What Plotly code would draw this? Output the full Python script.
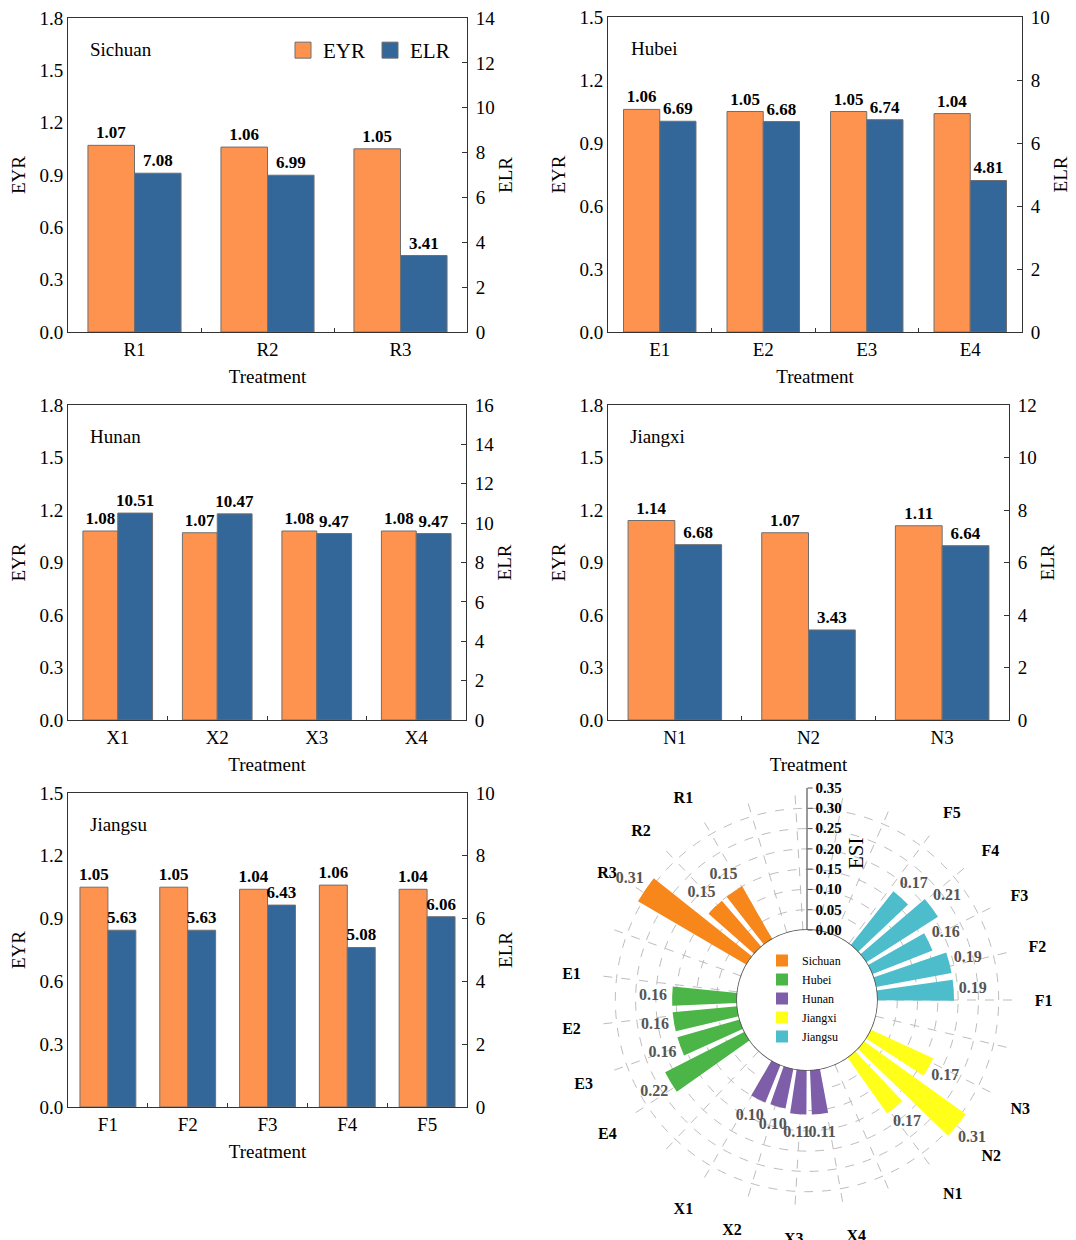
import math
import plotly.graph_objects as go

W, H = 1076, 1240
OFF = 8  # page body margin of the html page
FONT = "Liberation Serif"
AX = "#333333"
ORANGE = "#FE9350"
BLUE = "#336699"
BAR_EDGE = "#6f6f6f"

# ---------------- data: bar panels ----------------
sichuan_trt = ["R1", "R2", "R3"]
sichuan_eyr = [1.07, 1.06, 1.05]
sichuan_elr = [7.08, 6.99, 3.41]

hubei_trt = ["E1", "E2", "E3", "E4"]
hubei_eyr = [1.06, 1.05, 1.05, 1.04]
hubei_elr = [6.69, 6.68, 6.74, 4.81]

hunan_trt = ["X1", "X2", "X3", "X4"]
hunan_eyr = [1.08, 1.07, 1.08, 1.08]
hunan_elr = [10.51, 10.47, 9.47, 9.47]

jiangxi_trt = ["N1", "N2", "N3"]
jiangxi_eyr = [1.14, 1.07, 1.11]
jiangxi_elr = [6.68, 3.43, 6.64]

jiangsu_trt = ["F1", "F2", "F3", "F4", "F5"]
jiangsu_eyr = [1.05, 1.05, 1.04, 1.06, 1.04]
jiangsu_elr = [5.63, 5.63, 6.43, 5.08, 6.06]

# axis maxima (EYR, ELR)
sichuan_axes = (1.8, 14)
hubei_axes = (1.5, 10)
hunan_axes = (1.8, 16)
jiangxi_axes = (1.8, 12)
jiangsu_axes = (1.5, 10)

# ---------------- data: polar ESI ----------------
region_names = ["Sichuan", "Hubei", "Hunan", "Jiangxi", "Jiangsu"]
region_colors = ["#F7861B", "#4BB548", "#7E5EA8", "#FFFF1A", "#4DBDCC"]
esi_sichuan = [0.15, 0.15, 0.31]
esi_hubei = [0.16, 0.16, 0.16, 0.22]
esi_hunan = [0.10, 0.10, 0.11, 0.11]
esi_jiangxi = [0.17, 0.31, 0.17]
esi_jiangsu = [0.19, 0.19, 0.16, 0.21, 0.17]

# angular label slots (counter-clockwise from 0 deg)
angular_labels = ["F1", "F2", "F3", "F4", "F5", "", "", "", "",
                  "R1", "R2", "R3", "", "E1", "E2", "E3", "E4", "",
                  "X1", "X2", "X3", "X4", "", "N1", "N2", "N3", ""]
# bar slots (counter-clockwise from 0 deg)
bar_slots = (["F1", "F2", "F3", "F4", "F5"] + [None] * 6 +
             ["R1", "R2", "R3"] + [None] * 2 +
             ["E1", "E2", "E3", "E4"] + [None] * 2 +
             ["X1", "X2", "X3", "X4"] + [None] * 2 +
             ["N1", "N2", "N3"] + [None] * 2)

panels = [
    ("Sichuan", sichuan_trt, sichuan_eyr, sichuan_elr, sichuan_axes, (68, 467, 18, 332)),
    ("Hubei", hubei_trt, hubei_eyr, hubei_elr, hubei_axes, (608, 1022, 17, 332)),
    ("Hunan", hunan_trt, hunan_eyr, hunan_elr, hunan_axes, (68, 466, 405, 720)),
    ("Jiangxi", jiangxi_trt, jiangxi_eyr, jiangxi_elr, jiangxi_axes, (608, 1009, 405, 720)),
    ("Jiangsu", jiangsu_trt, jiangsu_eyr, jiangsu_elr, jiangsu_axes, (68, 467, 793, 1107)),
]


def px_x(p):
    return (p - OFF) / W


def px_y(p):
    return 1 - (p - OFF) / H


def sfx(n):
    return "" if n == 1 else str(n)


fig = go.Figure()
layout = dict(
    width=W, height=H,
    margin=dict(l=0, r=0, t=0, b=0),
    paper_bgcolor="white", plot_bgcolor="white",
    font=dict(family=FONT, color="black", size=18),
    barmode="overlay",
    annotations=[],
)

lbl_font = dict(family=FONT, size=17, color="black")

for i, (name, trt, eyr, elr, (eyr_max, elr_max), (x0, x1, y0, y1)) in enumerate(panels, start=1):
    xa, ya, yb = f"x{sfx(i)}", f"y{sfx(i)}", f"y{i + 5}"
    fig.add_trace(go.Bar(
        x=trt, y=eyr, xaxis=xa, yaxis=ya, width=0.35, offset=-0.35,
        marker=dict(color=ORANGE, line=dict(color=BAR_EDGE, width=1)),
        texttemplate="<b>%{y:.2f}</b>", textposition="outside", textangle=0,
        constraintext="none", cliponaxis=False, textfont=lbl_font,
        showlegend=False, name="EYR"))
    fig.add_trace(go.Bar(
        x=trt, y=elr, xaxis=xa, yaxis=yb, width=0.35, offset=0.0,
        marker=dict(color=BLUE, line=dict(color=BAR_EDGE, width=1)),
        texttemplate="<b>%{y:.2f}</b>", textposition="outside", textangle=0,
        constraintext="none", cliponaxis=False, textfont=lbl_font,
        showlegend=False, name="ELR"))

    layout[f"xaxis{sfx(i)}"] = dict(
        domain=[px_x(x0), px_x(x1)], anchor=ya, type="category",
        range=[-0.5, len(trt) - 0.5],
        showline=True, linecolor=AX, linewidth=1, mirror=True,
        ticks="inside", tickson="boundaries", ticklen=4, tickcolor=AX,
        tickfont=dict(size=19), ticklabelstandoff=0,
        title=dict(text="Treatment", font=dict(size=19), standoff=10),
        showgrid=False, zeroline=False, automargin=False)
    layout[f"yaxis{sfx(i)}"] = dict(
        domain=[px_y(y1), px_y(y0)], anchor=xa,
        range=[0, eyr_max], tick0=0, dtick=0.3, tickformat=".1f",
        showline=True, linecolor=AX, linewidth=1, ticks="",
        tickfont=dict(size=19), ticklabeloverflow="allow",
        title=dict(text="EYR", font=dict(size=19), standoff=8),
        showgrid=False, zeroline=False, automargin=False)
    layout[f"yaxis{i + 5}"] = dict(
        overlaying=ya, side="right", anchor=xa,
        range=[0, elr_max], tick0=0, dtick=2,
        showline=True, linecolor=AX, linewidth=1,
        ticks="inside", ticklen=5, tickcolor=AX,
        tickfont=dict(size=19), ticklabelstandoff=4, ticklabeloverflow="allow",
        title=dict(text="ELR", font=dict(size=19), standoff=4),
        showgrid=False, zeroline=False, automargin=False)
    layout["annotations"].append(dict(
        text=name, xref=f"{xa} domain", yref=f"{ya} domain",
        x=0.05, y=0.9, xanchor="left", yanchor="middle",
        showarrow=False, font=dict(size=19)))

# legend entries for EYR / ELR (square patches)
fig.add_trace(go.Scatter(x=[None], y=[None], xaxis="x", yaxis="y", mode="markers",
                         marker=dict(symbol="square", size=16, color=ORANGE,
                                     line=dict(color=BAR_EDGE, width=1)),
                         name="EYR", legend="legend"))
fig.add_trace(go.Scatter(x=[None], y=[None], xaxis="x", yaxis="y", mode="markers",
                         marker=dict(symbol="square", size=16, color=BLUE,
                                     line=dict(color=BAR_EDGE, width=1)),
                         name="ELR", legend="legend"))

# ---------------- polar ESI chart ----------------
CX, CY = 807, 1000          # centre of the polar chart (page px)
HOLE_PX, OUT_PX = 70, 212   # hole radius and outer radius (page px)
R_MAX = 0.3501
PX_PER_UNIT = (OUT_PX - HOLE_PX) / R_MAX
R_MAX_TXT = 0.43            # helper polar for value labels, same scale
OUT_TXT = HOLE_PX + R_MAX_TXT * PX_PER_UNIT

n_lab = len(angular_labels)
n_bar = len(bar_slots)
bar_rotation = 3.8
lab_theta = [j * 360.0 / n_lab for j in range(n_lab)]
slot_theta = {s: k * 360.0 / n_bar + bar_rotation for k, s in enumerate(bar_slots) if s}
bar_width = 0.75 * 360.0 / n_bar

esi_groups = [
    (sichuan_trt, esi_sichuan), (hubei_trt, esi_hubei), (hunan_trt, esi_hunan),
    (jiangxi_trt, esi_jiangxi), (jiangsu_trt, esi_jiangsu)]

all_r, all_t = [], []
for (trt, vals), nm, col in zip(esi_groups, region_names, region_colors):
    th = [slot_theta[t] for t in trt]
    fig.add_trace(go.Barpolar(
        r=vals, theta=th, width=[bar_width] * len(vals), name=nm,
        marker=dict(color=col, line=dict(width=0)), subplot="polar",
        legend="legend2"))
    all_r += vals
    all_t += th

# hole circle
circ_t = list(range(0, 361, 3))
fig.add_trace(go.Scatterpolar(
    r=[0] * len(circ_t), theta=circ_t, mode="lines",
    line=dict(color="#555555", width=1.6), subplot="polar",
    showlegend=False, hoverinfo="skip", cliponaxis=False))

# value labels just beyond bar ends (on a transparent helper polar with the same scale)
LABEL_GAP = 0.047
lab_r = [v + LABEL_GAP for v in all_r]
fig.add_trace(go.Scatterpolar(
    r=lab_r, theta=all_t, mode="text", text=[f"{v:.2f}" for v in all_r],
    textfont=dict(family=FONT, size=16, color="#555555", weight="bold"),
    subplot="polar2", showlegend=False, cliponaxis=False, hoverinfo="skip"))

layout["polar"] = dict(
    domain=dict(x=[px_x(CX - OUT_PX), px_x(CX + OUT_PX)],
                y=[px_y(CY + OUT_PX), px_y(CY - OUT_PX)]),
    hole=HOLE_PX / OUT_PX, bgcolor="white",
    radialaxis=dict(
        range=[0, R_MAX], angle=90, tick0=0, dtick=0.05, tickformat=".2f",
        showline=True, linecolor="#555555", linewidth=1.2,
        ticks="outside", ticklen=5, tickcolor="#555555", tickangle=90,
        tickfont=dict(family=FONT, size=15, color="black", weight="bold"),
        showgrid=True, gridcolor="#BDBDBD", griddash="dash", gridwidth=1),
    angularaxis=dict(
        type="linear", thetaunit="degrees", direction="counterclockwise", rotation=0,
        tickmode="array", tickvals=lab_theta, ticktext=angular_labels,
        ticks="outside", ticklen=12, tickcolor="rgba(0,0,0,0)",
        tickfont=dict(family=FONT, size=16, color="black", weight="bold"),
        showline=False, showgrid=True, gridcolor="#BDBDBD", griddash="dash", gridwidth=1),
)
layout["polar2"] = dict(
    domain=dict(x=[px_x(CX - OUT_TXT), px_x(CX + OUT_TXT)],
                y=[px_y(CY + OUT_TXT), px_y(CY - OUT_TXT)]),
    hole=HOLE_PX / OUT_TXT, bgcolor="rgba(0,0,0,0)",
    radialaxis=dict(range=[0, R_MAX_TXT], visible=False, showgrid=False,
                    showline=False, showticklabels=False, ticks=""),
    angularaxis=dict(type="linear", thetaunit="degrees", direction="counterclockwise",
                     rotation=0, visible=False, showgrid=False, showline=False,
                     showticklabels=False, ticks=""),
)

layout["annotations"].append(dict(
    text="ESI", xref="paper", yref="paper", x=px_x(856), y=px_y(853),
    xanchor="center", yanchor="middle", textangle=-90, showarrow=False,
    font=dict(size=21)))

layout["legend"] = dict(
    orientation="h", x=px_x(283), y=px_y(30), xanchor="left", yanchor="top",
    font=dict(size=21), bgcolor="rgba(0,0,0,0)", itemsizing="trace")
layout["legend2"] = dict(
    orientation="v", x=px_x(762), y=px_y(946), xanchor="left", yanchor="top",
    font=dict(size=12), bgcolor="rgba(0,0,0,0)", tracegroupgap=0)

fig.update_layout(**layout)
fig.write_html("out.html")
